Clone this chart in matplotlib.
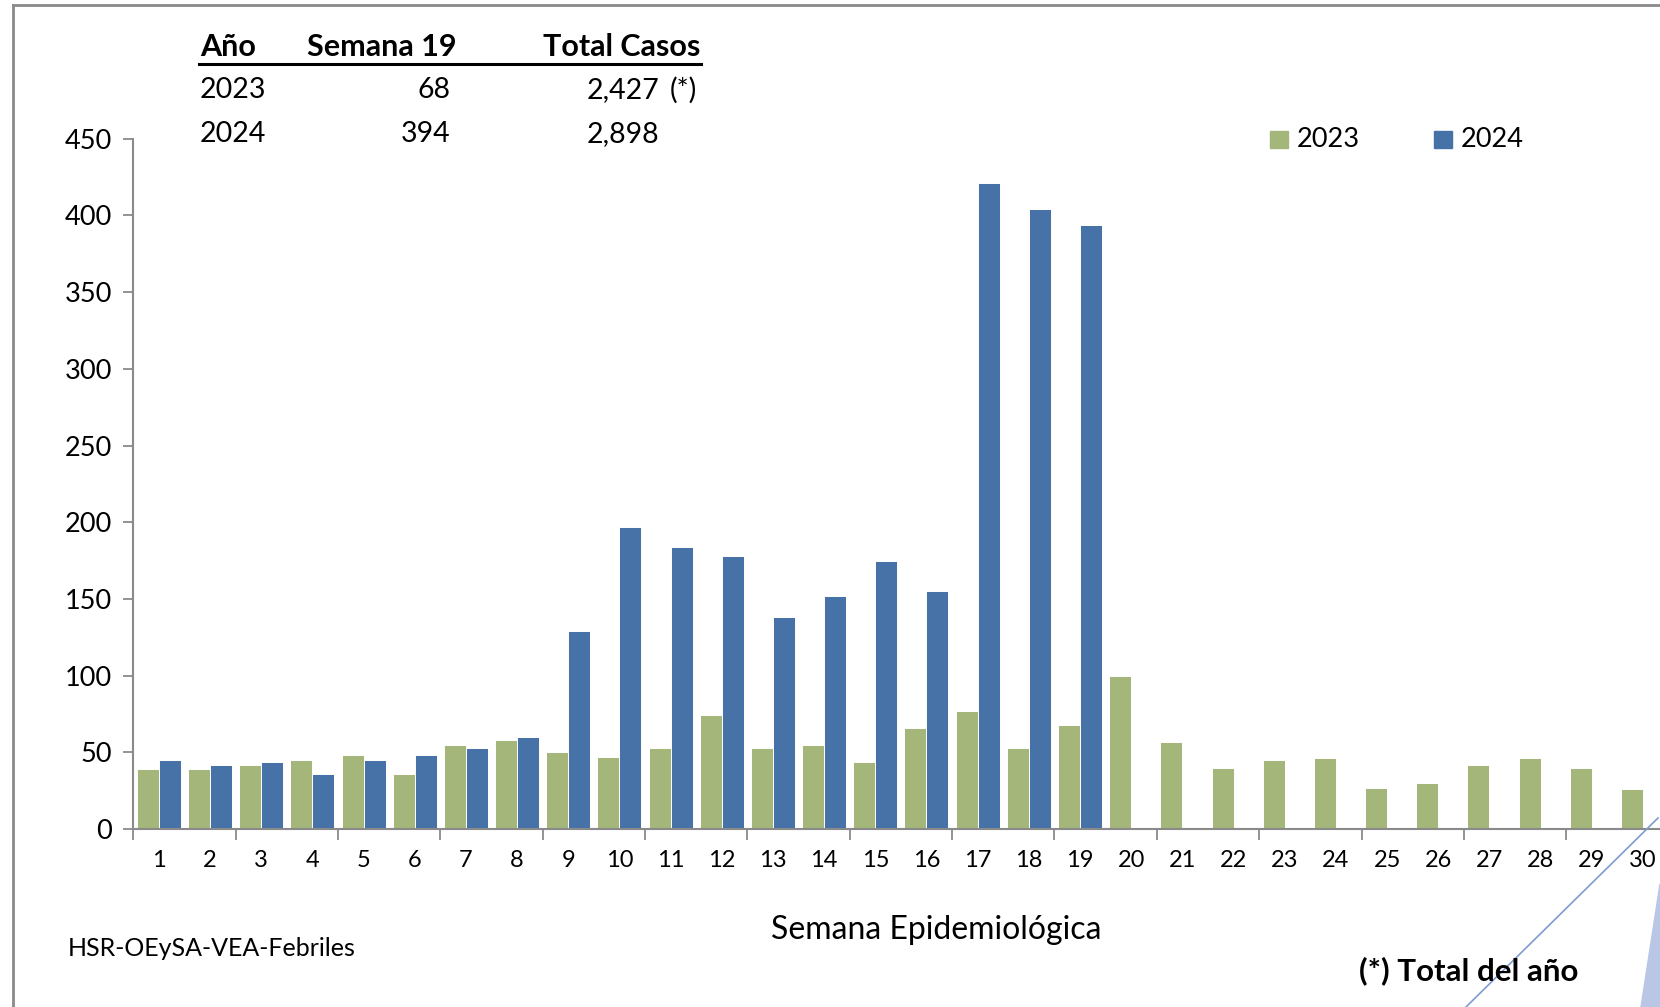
import numpy as np
import matplotlib
matplotlib.use("Agg")
import matplotlib.pyplot as plt
from matplotlib.patches import Rectangle, Polygon
from matplotlib.lines import Line2D

plt.rcParams['font.family'] = ['Lato', 'DejaVu Sans']

# datos por semana epidemiologica
semanas = list(range(1, 31))
casos_2023 = [39, 39, 42, 45, 48, 36, 55, 58, 50, 47,
              53, 74, 53, 55, 44, 66, 77, 53, 68, 100,
              57, 40, 45, 46, 27, 30, 42, 46, 40, 26]
casos_2024 = [45, 42, 44, 36, 45, 48, 53, 60, 129, 197,
              184, 178, 138, 152, 175, 155, 421, 404, 394]

tabla_hdr = ["Año", "Semana 19", "Total Casos"]
tabla_anios = ["2023", "2024"]
tabla_sem19 = ["68", "394"]
tabla_total = ["2,427", "2,898"]

verde = "#A5B67B"
azul = "#4672A8"
gris = "#8A8A8A"

W, H = 1660, 1007
fig = plt.figure(figsize=(W / 100, H / 100), dpi=100)


def fx(x):
    return x / W


def fy(y):
    return 1 - y / H


ax = fig.add_axes([fx(133.2), fy(829), 1535.4 / W, 690.3 / H])

x = np.array(semanas)
bw = 0.43
ax.bar(x - bw / 2, casos_2023, width=bw, color=verde, edgecolor="white", linewidth=0.7)
x24 = np.arange(1, len(casos_2024) + 1)
ax.bar(x24 + bw / 2, casos_2024, width=bw, color=azul, edgecolor="white", linewidth=0.7)

ax.set_xlim(0.5, 30.5)
ax.set_ylim(0, 450)
ax.set_yticks(range(0, 451, 50))
ax.tick_params(axis="y", labelsize=19.5, length=7, width=1.3, color=gris, pad=8)

ax.set_xticks(semanas)
ax.set_xticklabels([str(s) for s in semanas])
ax.tick_params(axis="x", which="major", length=0, labelsize=17, pad=15)
ax.set_xticks(np.arange(0.5, 31, 2), minor=True)
ax.tick_params(axis="x", which="minor", length=8, width=1.3, color=gris)

for s in ["top", "right"]:
    ax.spines[s].set_visible(False)
for s in ["left", "bottom"]:
    ax.spines[s].set_color(gris)
    ax.spines[s].set_linewidth(1.5)

# tabla de resumen
fig.text(fx(200), fy(47), tabla_hdr[0], fontsize=22, fontweight="bold", va="center", ha="left")
fig.text(fx(457), fy(47), tabla_hdr[1], fontsize=22, fontweight="bold", va="center", ha="right")
fig.text(fx(700), fy(47), tabla_hdr[2], fontsize=22, fontweight="bold", va="center", ha="right")
fig.add_artist(Line2D([fx(199), fx(701)], [fy(64), fy(64)], color="black", lw=2.2))
for i, yy in enumerate([90, 134.5]):
    fig.text(fx(200), fy(yy), tabla_anios[i], fontsize=20.5, va="center", ha="left")
    fig.text(fx(450), fy(yy), tabla_sem19[i], fontsize=20.5, va="center", ha="right")
    fig.text(fx(659), fy(yy), tabla_total[i], fontsize=20.5, va="center", ha="right")
fig.text(fx(670), fy(90), "(*)", fontsize=20.5, va="center", ha="left")

# leyenda
for x0, col, lab in [(1270, verde, "2023"), (1434, azul, "2024")]:
    fig.add_artist(Rectangle((fx(x0), fy(148)), 18 / W, 17 / H, color=col, transform=fig.transFigure))
    fig.text(fx(x0 + 27), fy(139.5), lab, fontsize=19.5, va="center", ha="left")

fig.text(fx(936), fy(930), "Semana Epidemiológica", fontsize=23, va="center", ha="center")
fig.text(fx(68), fy(949), "HSR-OEySA-VEA-Febriles", fontsize=18, va="center", ha="left")
fig.text(fx(1359), fy(971), "(*) Total del año", fontsize=22.5, fontweight="bold", va="center", ha="left")

# marco y adornos
fig.add_artist(Line2D([fx(13), fx(13)], [fy(5), 0], color=gris, lw=2))
fig.add_artist(Line2D([fx(13), 1], [fy(5), fy(5)], color=gris, lw=2))
fig.add_artist(Line2D([fx(1658), fx(1466)], [fy(818), 0], color="#7F9BD0", lw=1.2))
fig.add_artist(Polygon([[1, fy(884)], [fx(1641), 0], [1, 0]], closed=True,
                       color="#BAC6E5", transform=fig.transFigure))

fig.savefig("out.png", dpi=100)
